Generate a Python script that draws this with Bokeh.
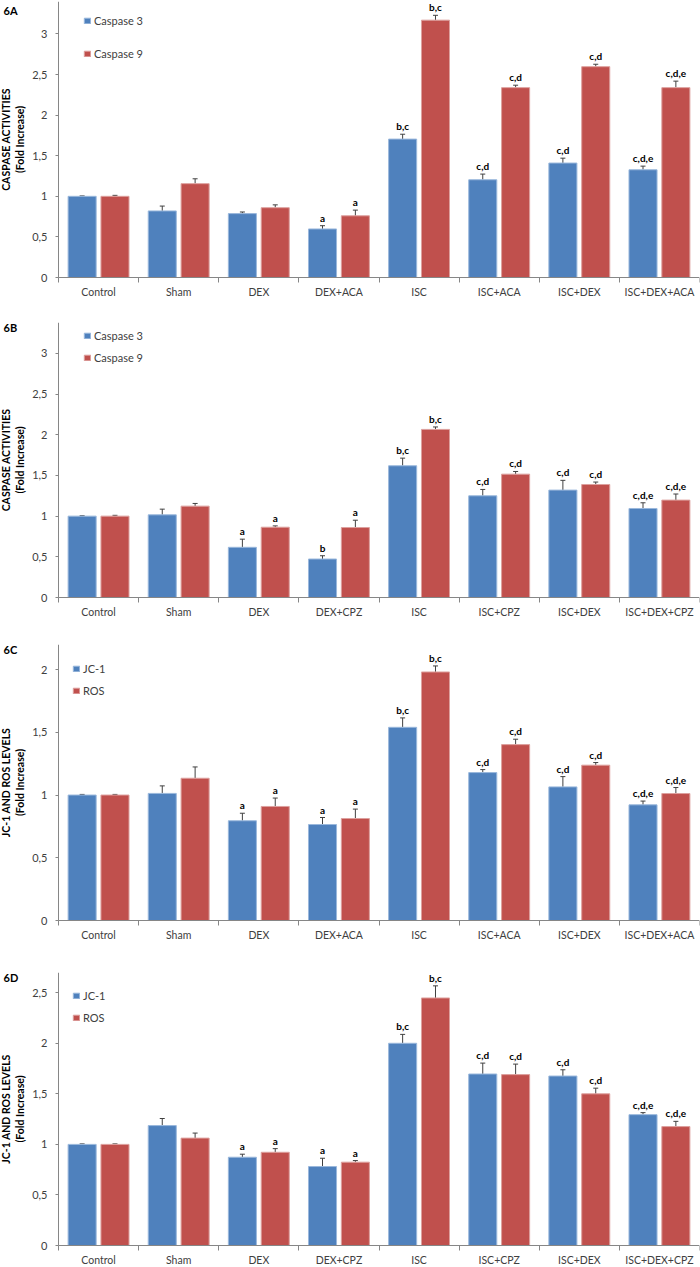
from bokeh.plotting import figure
from bokeh.models import (ColumnDataSource, Range1d, FixedTicker, Whisker, TeeHead,
                          Label, Legend, LegendItem)
from bokeh.layouts import column
from bokeh.core.properties import value
from bokeh.embed import file_html
from bokeh.resources import INLINE

# ---------------- data ----------------
groups_aca = ["Control", "Sham", "DEX", "DEX+ACA", "ISC", "ISC+ACA", "ISC+DEX", "ISC+DEX+ACA"]
groups_cpz = ["Control", "Sham", "DEX", "DEX+CPZ", "ISC", "ISC+CPZ", "ISC+DEX", "ISC+DEX+CPZ"]

# 6A  caspase activities (ACA)
a_casp3 = [1.00, 0.82, 0.787, 0.598, 1.705, 1.204, 1.41, 1.327]
a_casp3_err = [0.005, 0.06, 0.02, 0.04, 0.06, 0.07, 0.06, 0.045]
a_casp3_sig = ["", "", "", "a", "b,c", "c,d", "c,d", "c,d,e"]
a_casp9 = [1.00, 1.156, 0.86, 0.76, 3.17, 2.339, 2.597, 2.339]
a_casp9_err = [0.012, 0.06, 0.035, 0.07, 0.06, 0.03, 0.03, 0.08]
a_casp9_sig = ["", "", "", "a", "b,c", "c,d", "c,d", "c,d,e"]

# 6B  caspase activities (CPZ)
b_casp3 = [1.00, 1.016, 0.617, 0.473, 1.619, 1.25, 1.32, 1.094]
b_casp3_err = [0.005, 0.07, 0.10, 0.04, 0.094, 0.078, 0.12, 0.07]
b_casp3_sig = ["", "", "a", "b", "b,c", "c,d", "c,d", "c,d,e"]
b_casp9 = [1.00, 1.123, 0.864, 0.86, 2.066, 1.516, 1.389, 1.197]
b_casp9_err = [0.01, 0.033, 0.016, 0.09, 0.03, 0.033, 0.03, 0.075]
b_casp9_sig = ["", "", "a", "a", "b,c", "c,d", "c,d", "c,d,e"]

# 6C  JC-1 and ROS (ACA)
c_jc1 = [1.00, 1.013, 0.795, 0.765, 1.54, 1.179, 1.065, 0.922]
c_jc1_err = [0.005, 0.06, 0.06, 0.056, 0.075, 0.024, 0.082, 0.03]
c_jc1_sig = ["", "", "a", "a", "b,c", "c,d", "c,d", "c,d,e"]
c_ros = [1.00, 1.134, 0.909, 0.813, 1.981, 1.402, 1.238, 1.012]
c_ros_err = [0.005, 0.09, 0.067, 0.075, 0.048, 0.043, 0.021, 0.048]
c_ros_sig = ["", "", "a", "a", "b,c", "c,d", "c,d", "c,d,e"]

# 6D  JC-1 and ROS (CPZ)
d_jc1 = [1.00, 1.186, 0.873, 0.781, 2.00, 1.696, 1.676, 1.294]
d_jc1_err = [0.005, 0.07, 0.03, 0.082, 0.088, 0.108, 0.062, 0.02]
d_jc1_sig = ["", "", "a", "a", "b,c", "c,d", "c,d", "c,d,e"]
d_ros = [1.00, 1.062, 0.922, 0.824, 2.448, 1.69, 1.50, 1.176]
d_ros_err = [0.005, 0.05, 0.036, 0.016, 0.12, 0.104, 0.056, 0.052]
d_ros_sig = ["", "", "a", "a", "b,c", "c,d", "c,d", "c,d,e"]

yticks_caspase = [0, 0.5, 1, 1.5, 2, 2.5, 3]
yticks_c = [0, 0.5, 1, 1.5, 2]
yticks_d = [0, 0.5, 1, 1.5, 2, 2.5]

# ---------------- style ----------------
FONT = "Lato"
BLUE, BLUE_EDGE = "#4F81BD", "#9AB8DC"
RED, RED_EDGE = "#C0504D", "#DDA09E"
AXIS = "#868686"
TXT = "#404040"
W = 700
RIGHT = 1
AXIS_X = 58            # pixel position of the value axis
BAR_W = 0.35
OFF = 0.205


def comma(v):
    s = ("%g" % v)
    return s.replace(".", ",")


def panel(tag, groups, n1, v1, e1, s1, n2, v2, e2, s2, ymax, yticks, ylabel,
          height, top, below_px, leg_top, leg_pitch, leg_x, tag_dy):
    n = len(groups)
    frame_w = W - RIGHT
    frame_h = height - top
    x0 = n * AXIS_X / (frame_w - AXIS_X)              # room left of the value axis
    y0 = ymax * below_px / (frame_h - below_px)       # room below the category axis
    p = figure(width=W, height=height, output_backend="svg", toolbar_location=None,
               x_range=Range1d(-x0, n), y_range=Range1d(-y0, ymax),
               min_border_left=0, min_border_right=RIGHT,
               min_border_top=top, min_border_bottom=0)
    p.outline_line_color = None
    p.grid.visible = False
    p.background_fill_color = "white"

    renderers = []
    for vals, errs, sigs, fill, edge, off in [(v1, e1, s1, BLUE, BLUE_EDGE, -OFF),
                                              (v2, e2, s2, RED, RED_EDGE, OFF)]:
        xs = [i + 0.5 + off for i in range(n)]
        src = ColumnDataSource(dict(x=xs, top=vals, upper=[v + e for v, e in zip(vals, errs)],
                                    sig=sigs))
        r = p.vbar(x="x", top="top", bottom=0, width=BAR_W, source=src, fill_color=fill,
                   line_color=edge, line_width=1)
        renderers.append(r)
        wh = Whisker(source=src, base="x", lower="top", upper="upper", dimension="height",
                     line_color=TXT, line_width=1, lower_head=None,
                     upper_head=TeeHead(size=5, line_color=TXT, line_width=1))
        p.add_layout(wh)
        p.text(x="x", y="upper", text="sig", source=src, text_align="center",
               text_baseline="bottom", y_offset=-2, text_font=value(FONT),
               text_font_style="bold", text_font_size="10px", text_color="black")

    # category axis at value 0: names centred, boundary ticks as minor ticks
    xa = p.xaxis[0]
    xa.fixed_location = 0
    xa.bounds = (0, n)
    xa.ticker = FixedTicker(ticks=[i + 0.5 for i in range(n)], minor_ticks=list(range(n + 1)))
    xa.major_label_overrides = {i + 0.5: g for i, g in enumerate(groups)}
    xa.major_tick_out = 0
    xa.major_tick_in = 0
    xa.minor_tick_out = 5
    xa.minor_tick_in = 0
    xa.minor_tick_line_color = AXIS
    xa.axis_line_color = AXIS
    xa.major_label_text_font = FONT
    xa.major_label_text_font_size = "10.5px"
    xa.major_label_text_color = TXT
    xa.major_label_standoff = 3

    # value axis at category position 0
    ya = p.yaxis[0]
    ya.fixed_location = 0
    ya.bounds = (0, ymax)
    ya.ticker = FixedTicker(ticks=yticks, minor_ticks=[])
    ya.major_label_overrides = {float(t): comma(t) for t in yticks}
    ya.major_tick_out = 3
    ya.major_tick_in = 0
    ya.major_tick_line_color = AXIS
    ya.axis_line_color = AXIS
    ya.major_label_text_font = FONT
    ya.major_label_text_font_size = "11px"
    ya.major_label_text_color = TXT
    ya.major_label_standoff = 8
    ya.axis_label = ylabel
    ya.axis_label_text_font = FONT
    ya.axis_label_text_font_size = "10.5px"
    ya.axis_label_text_font_style = "bold"
    ya.axis_label_text_color = "black"
    ya.axis_label_standoff = 3

    row_h = 14
    spacing = int(round(leg_pitch - row_h))
    leg_h = 2 * row_h + spacing
    legend = Legend(items=[LegendItem(label=n1, renderers=[renderers[0]]),
                           LegendItem(label=n2, renderers=[renderers[1]])],
                    location=(leg_x, frame_h - leg_top - leg_h), orientation="vertical",
                    padding=0, margin=0, spacing=spacing, glyph_width=8, glyph_height=7,
                    label_height=row_h, label_standoff=3, label_text_font=FONT,
                    label_text_font_size="11px", label_text_color=TXT,
                    border_line_alpha=0, background_fill_alpha=0)
    p.add_layout(legend)

    p.add_layout(Label(x=3, y=frame_h - tag_dy, x_units="screen", y_units="screen", text=tag,
                       text_font=FONT, text_font_style="bold", text_font_size="11px",
                       text_baseline="middle", text_color="black"))
    return p


casp_label = "CASPASE ACTIVITIES\n(Fold Increase)"
ros_label = "JC-1 AND ROS LEVELS\n(Fold Increase)"

pA = panel("6A", groups_aca, "Caspase 3", a_casp3, a_casp3_err, a_casp3_sig,
           "Caspase 9", a_casp9, a_casp9_err, a_casp9_sig, 3.4, yticks_caspase, casp_label,
           302, 1, 25, 12, 33, 83, 9)
pB = panel("6B", groups_cpz, "Caspase 3", b_casp3, b_casp3_err, b_casp3_sig,
           "Caspase 9", b_casp9, b_casp9_err, b_casp9_sig, 3.38, yticks_caspase, casp_label,
           320, 20, 25, 6, 22, 83, 5)
pC = panel("6C", groups_aca, "JC-1", c_jc1, c_jc1_err, c_jc1_sig,
           "ROS", c_ros, c_ros_err, c_ros_sig, 2.2, yticks_c, ros_label,
           323, 22, 25, 17, 22, 72, 5)
pD = panel("6D", groups_cpz, "JC-1", d_jc1, d_jc1_err, d_jc1_sig,
           "ROS", d_ros, d_ros_err, d_ros_sig, 2.7, yticks_d, ros_label,
           322, 27, 22, 16, 22, 72, 5)

layout = column(pA, pB, pC, pD, spacing=0)
open("out.html", "w").write(file_html(layout, INLINE))
